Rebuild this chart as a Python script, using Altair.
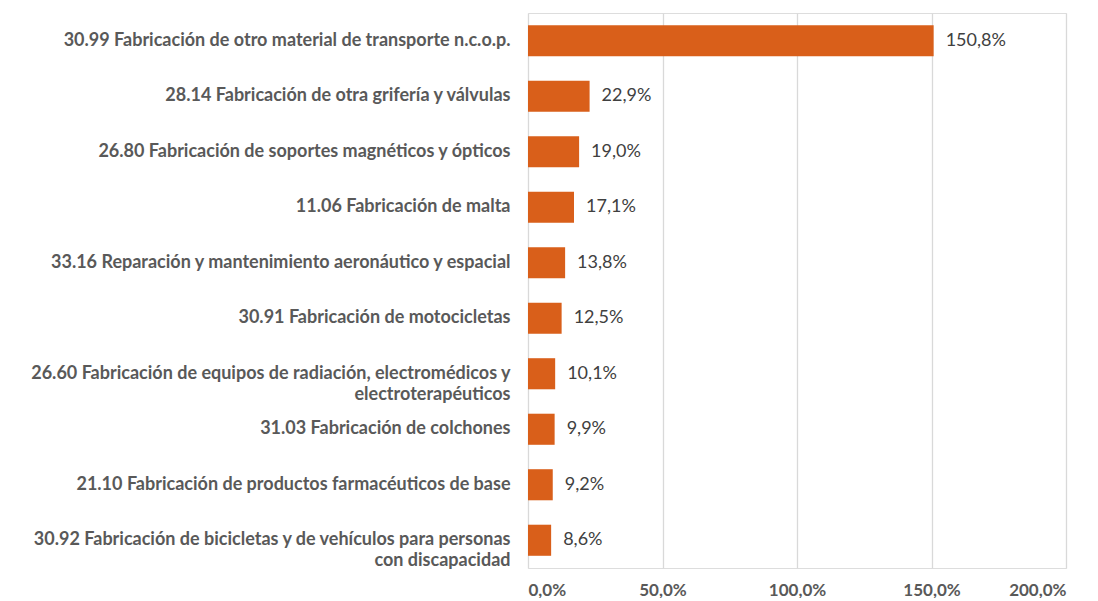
import altair as alt
import pandas as pd

categories = [
    "30.99 Fabricación de otro material de transporte n.c.o.p.",
    "28.14 Fabricación de otra grifería y válvulas",
    "26.80 Fabricación de soportes magnéticos y ópticos",
    "11.06 Fabricación de malta",
    "33.16 Reparación y mantenimiento aeronáutico y espacial",
    "30.91 Fabricación de motocicletas",
    "26.60 Fabricación de equipos de radiación, electromédicos y|electroterapéuticos",
    "31.03 Fabricación de colchones",
    "21.10 Fabricación de productos farmacéuticos de base",
    "30.92 Fabricación de bicicletas y de vehículos para personas|con discapacidad",
]
values = [150.8, 22.9, 19.0, 17.1, 13.8, 12.5, 10.1, 9.9, 9.2, 8.6]
x_ticks = [0, 50, 100, 150, 200]

df = pd.DataFrame({"cat": categories, "v": values})

FONT = "Lato"
BAR = "#D95F1A"

base = alt.Chart(df).encode(
    y=alt.Y(
        "cat:N",
        sort=categories,
        title=None,
        scale=alt.Scale(paddingInner=0.44, paddingOuter=0.22),
        axis=alt.Axis(
            labelExpr="split(datum.label, '|')",
            labelFont=FONT,
            labelFontSize=18,
            labelFontWeight="bold",
            labelColor="#595959",
            labelPadding=18,
            labelLimit=600,
            labelLineHeight=21,
            ticks=False,
            domain=False,
            grid=False,
        ),
    ),
)

bars = base.mark_bar(color=BAR).encode(
    x=alt.X(
        "v:Q",
        scale=alt.Scale(domain=[0, 200], nice=False),
        title=None,
        axis=alt.Axis(
            values=x_ticks,
            labelExpr="replace(format(datum.value, '.1f'), '.', ',') + '%'",
            labelFont=FONT,
            labelFontSize=17,
            labelFontWeight="bold",
            labelColor="#595959",
            labelPadding=14,
            ticks=False,
            domain=False,
            grid=True,
            gridColor="#d9d9d9",
            gridWidth=1.3,
        ),
    ),
)

text = base.transform_calculate(
    lbl="replace(format(datum.v, '.1f'), '.', ',') + '%'"
).mark_text(
    align="left", baseline="middle", dx=12, font=FONT, fontSize=18, color="#404040"
).encode(x="v:Q", text="lbl:N")

chart = (
    alt.layer(bars, text)
    .properties(
        width=538,
        height=555,
        autosize=alt.AutoSizeParams(type="none"),
        padding={"left": 520, "top": 5, "right": 20, "bottom": 30},
    )
    .configure_view(stroke=None)
    .configure(background="white")
)

chart.save("out.html", embed_options={"renderer": "svg", "actions": False})
